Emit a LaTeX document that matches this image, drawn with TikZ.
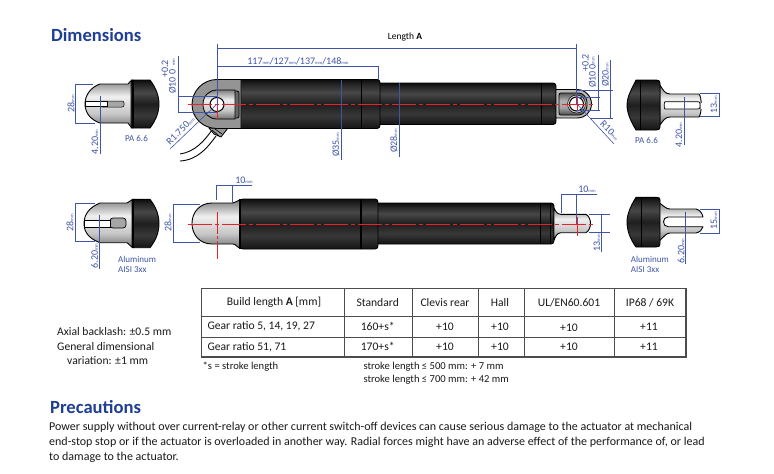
\documentclass[tikz,border=0pt]{standalone}
\usepackage{fontspec}
\setmainfont{Carlito}
\definecolor{dimblue}{HTML}{3F55A5}
\definecolor{headblue}{HTML}{1F3F94}
\definecolor{cline}{HTML}{E8212B}
\definecolor{bodytxt}{HTML}{1A1A1A}
\pgfdeclareverticalshading{darkbody}{100bp}{color(0bp)=(black!92!white);color(25bp)=(black!92!white);color(38bp)=(black!78!white);color(50bp)=(black!88!white);color(62bp)=(black!72!white);color(70bp)=(black!85!white);color(75bp)=(black!95!white);color(100bp)=(black!95!white)}
\pgfdeclareverticalshading{greybody}{100bp}{color(0bp)=(black!55!white);color(25bp)=(black!55!white);color(40bp)=(black!22!white);color(58bp)=(black!6!white);color(75bp)=(black!50!white);color(100bp)=(black!50!white)}
\pgfdeclareverticalshading{slotbody}{100bp}{color(0bp)=(black!70!white);color(25bp)=(black!70!white);color(42bp)=(black!35!white);color(58bp)=(black!30!white);color(75bp)=(black!65!white);color(100bp)=(black!65!white)}
\newcommand{\mmu}{{\fontsize{4.5}{5}\selectfont mm}}
\tikzset{
  x=1pt,y=-1pt,
  dk/.style={shade,shading=darkbody,draw=black,line width=.9pt,line join=round},
  gy/.style={shade,shading=greybody,draw=black,line width=.9pt,line join=round},
  dl/.style={draw=dimblue,line width=.6pt},
  band/.style={draw=black,line width=1pt},
  rl/.style={draw=cline,line width=1pt,dash pattern=on 24pt off 3pt on 4pt off 3pt},
  rs/.style={draw=cline,line width=1pt},
  dt/.style={text=dimblue,font=\fontsize{10}{11}\selectfont,inner sep=0pt},
  dv/.style={dt,rotate=90},
  matl/.style={text=dimblue,font=\fontsize{9}{9.5}\selectfont,inner sep=0pt,anchor=west,align=left},
  tb/.style={text=bodytxt,font=\fontsize{11.6}{13}\selectfont,inner sep=0pt},
  tl/.style={tb,anchor=west},
  nt/.style={tl,font=\fontsize{10.6}{12}\selectfont},
  pg/.style={tl,font=\fontsize{12}{15}\selectfont},
  hd/.style={text=headblue,font=\fontsize{18.6}{20}\selectfont\bfseries,inner sep=0pt,anchor=west},
  rule/.style={draw=black!70,line width=1pt},
  orule/.style={draw=black!70,line width=1.5pt},
}
\begin{document}
\begin{tikzpicture}
\useasboundingbox (0,0) rectangle (774,474);
\fill[white] (0,0) rectangle (774,474);

% ---- headings
\node[hd] (h1) at (51,35.5) {Dimensions};
\node[inner sep=0pt,text=black,font=\fontsize{9.5}{10}\selectfont] (lenA) at (405,37) {Length \textbf{A}};

% ---- top row, left end view
\path[gy] (128,84) -- (100,84) .. controls (91,87) and (85,95) .. (85,104) .. controls (85,113) and (91,120) .. (100,123) -- (128,123) .. controls (130,125) and (130,127) .. (133,128) -- (133,80) .. controls (130,81) and (130,82) .. (128,84) -- cycle;
\path[dk] (131,80) -- (150,80) .. controls (156,88) and (159,96) .. (159,104) .. controls (159,112) and (156,120) .. (150,128) -- (131,128) -- cycle;
\draw[band,line width=1.6pt] (133,80) -- (133,128);
\path[fill=black!35,draw=black,line width=.5pt,rounded corners=2pt] (100,101) -- (124,101) -- (124,107) -- (100,107) -- cycle;
\path[fill=white,draw=black,line width=.7pt] (85,101.5) -- (107,101.5) -- (107,106.5) -- (85,106.5) -- cycle;

% ---- top row, actuator
\path[dk,rounded corners=3pt] (370,83) -- (556,83) -- (556,124.5) -- (370,124.5) -- cycle;
\draw[band] (541,83) -- (541,124.5);
\path[dk,rounded corners=3pt] (236,79.5) -- (380,79.5) -- (380,128.5) -- (236,128.5) -- cycle;
\draw[band] (361,79.5) -- (361,128.5);
% cable
\draw[line width=.9pt,black] (212,130) .. controls (205,140) and (195,152) .. (180,154);
\draw[line width=.9pt,black] (216,136) .. controls (208,147) and (198,160) .. (180,161);
\path[fill=black!40,draw=black,line width=.8pt] (209,128) -- (228,128) -- (221,137) -- (214,134) -- cycle;
\draw[black,line width=.6pt] (212,130) -- (219,136) (215,129) -- (222,134);
% clevis rear
\path[fill=black!42,draw=black,line width=.9pt] (241,79.5) -- (217,79.5) .. controls (203,79.5) and (192,91) .. (192,104.5) .. controls (192,118) and (203,128.5) .. (217,128.5) -- (241,128.5) -- cycle;
\path[fill=black!60,draw=black,line width=.7pt,rounded corners=2pt] (226,91) -- (239,91) -- (239,118) -- (226,118) -- cycle;
\path[gy,line width=.8pt] (217,90) .. controls (209,90) and (203,96) .. (203,104.5) .. controls (203,113) and (209,119) .. (217,119) -- (235,119) -- (235,90) -- cycle;
\path[fill=white,draw=black,line width=1pt] (217,104.5) circle[radius=7];
% clevis front
\path[fill=black!28,draw=black,line width=.9pt] (556,89.5) -- (577,89.5) .. controls (585,89.5) and (591.5,96) .. (591.5,104) .. controls (591.5,112) and (585,118) .. (577,118) -- (556,118) -- cycle;
\path[shade,shading=slotbody,draw=black,line width=.8pt,rounded corners=2pt] (559,93) -- (577,93) .. controls (583,93) and (587,98) .. (587,104) .. controls (587,110) and (583,115) .. (577,115) -- (559,115) -- cycle;
\path[fill=black!15,draw=black,line width=.5pt] (576.5,104) circle[radius=9];
\path[fill=white,draw=black,line width=1pt] (576.5,104) circle[radius=7];

% ---- top row, right end view
\path[gy] (660,85) .. controls (663,90) and (665,94) .. (670,94) -- (699,94) .. controls (702,97) and (702,113) .. (699,117) -- (670,117) .. controls (665,117) and (663,121) .. (660,125) -- cycle;
\path[fill=white,draw=black,line width=.7pt,rounded corners=2pt] (700,101.7) -- (667,101.7) .. controls (664,101.7) and (664,109) .. (667,109) -- (700,109) -- cycle;
\draw[white,line width=1.2pt] (701.5,102.5) -- (701.5,108.5);
\path[dk] (640,80) -- (636,80) .. controls (630,92) and (627,98) .. (627,105) .. controls (627,112) and (630,120) .. (636,130) -- (656,130) .. controls (659,130) and (660,129) .. (660,127) -- (660,83) .. controls (660,81) and (659,80) .. (656,80) -- cycle;
\draw[band,line width=1.4pt] (640.7,80) -- (640.7,130);

% ---- lower row, left end view
\path[gy] (127,203) -- (100,203) .. controls (90,207) and (84,214) .. (84,223.5) .. controls (84,233) and (90,239) .. (100,242.7) -- (127,242.7) .. controls (130,244) and (130,247) .. (134,247.7) -- (134,199.3) .. controls (130,200) and (130,202) .. (127,203) -- cycle;
\path[dk] (132,199.3) -- (150,199.3) .. controls (156,207) and (159,215) .. (159,223.5) .. controls (159,232) and (156,240) .. (150,247.7) -- (132,247.7) -- cycle;
\draw[band,line width=1.6pt] (133,199.3) -- (133,247.7);
\path[fill=black!35,draw=black,line width=.7pt,rounded corners=3pt] (110,218) -- (126,218) -- (126,228) -- (110,228) -- cycle;
\path[fill=white,draw=black,line width=.7pt] (84,220) -- (110,220) -- (110,227) -- (84,227) -- cycle;

% ---- lower row, actuator
\path[dk,rounded corners=3pt] (370,203) -- (554,203) -- (554,244) -- (370,244) -- cycle;
\draw[band,line width=1.4pt] (540.7,203) -- (540.7,244);
\draw[band,line width=.7pt] (550,203) -- (550,244);
\path[gy] (554,208) .. controls (556,212) and (557,214) .. (561,214.3) -- (586,214.3) .. controls (592,218) and (592,229) .. (586,232.7) -- (561,232.7) .. controls (557,233) and (556,236) .. (554,240) -- cycle;
\path[gy] (241,200) .. controls (237,200) and (236,203) .. (233,203) -- (212,203) .. controls (200,203) and (192,212) .. (192,223.5) .. controls (192,235) and (200,244) .. (212,244) -- (233,244) .. controls (236,244) and (237,248) .. (241,248) -- cycle;
\path[dk,rounded corners=3pt] (240,199) -- (378,199) -- (378,249) -- (240,249) -- cycle;
\draw[band,line width=1.6pt] (240,199) -- (240,249);
\draw[band,line width=1.4pt] (361,199) -- (361,249);

% ---- lower row, right end view
\path[gy] (658,202) .. controls (664,206) and (666,209) .. (670,209) -- (696,209) .. controls (700,210) and (702,213) .. (703,217) -- (668,217) .. controls (662,217) and (662,226.7) .. (668,226.7) -- (703,226.7) .. controls (702,230) and (700,232) .. (696,233) -- (670,233) .. controls (666,233) and (664,237) .. (658,242) -- cycle;
\path[dk] (641,197.3) -- (636,197.3) .. controls (630,207) and (627,215) .. (627,222) .. controls (627,230) and (630,239) .. (636,247) -- (656,247) .. controls (659,247) and (660,246) .. (660,244) -- (660,200) .. controls (660,198) and (659,197.3) .. (656,197.3) -- cycle;
\draw[band,line width=1.4pt] (641.7,197.3) -- (641.7,247);

% ---- red centre lines
\draw[rl] (188,104.3) -- (594,104.3);
\draw[rs] (217,92) -- (217,119);
\draw[rs] (577,96) -- (577,110);
\draw[rl] (188,224) -- (595,224);
\draw[rs,dash pattern=on 22pt off 2pt on 3pt off 2pt on 30pt] (217,212) -- (217,259);
\draw[rs] (577,216.7) -- (577,236);

% ---- blue dimension lines, top row
\draw[dl] (217,44) -- (217,104) (576,44) -- (576,104);
\draw[dl] (217,48.5) -- (576,48.5);
\draw[dl] (217,66) -- (378,66) -- (378,80);
\draw[dl] (178,56) -- (178,112) (178,96) -- (217,96) (178,112) -- (217,112);
\draw[dl] (217,104) -- (170,149);
\draw[dl] (341.7,80) -- (341.7,160);
\draw[dl] (399.5,83) -- (399.5,156.7);
\draw[dl] (93,84) -- (75,84) -- (75,123) -- (95,123);
\draw[dl] (100,96) -- (100,154);
\draw[dl] (598,55) -- (598,111) (576,97) -- (600,97) (576,110.7) -- (600,110.7);
\draw[dl] (610.7,60) -- (610.7,118) (576,90.7) -- (613,90.7) (590,118) -- (613,118);
\draw[dl] (577,104) -- (614,144);
\draw[dl] (700,93) -- (719,93) -- (719,116) -- (700,116);
\draw[dl] (684.3,97) -- (684.3,145);
% lower row
\draw[dl] (216.7,200) -- (216.7,185.7) -- (252,185.7) (232.7,185.7) -- (232.7,203);
\draw[dl] (95,203) -- (75,203) -- (75,241.7) -- (95,241.7);
\draw[dl] (200,204) -- (173,204) -- (173,242.7) -- (200,242.7);
\draw[dl] (99.3,215) -- (99.3,269);
\draw[dl] (561.7,213) -- (561.7,194) -- (596.7,194) (576.7,194) -- (576.7,224);
\draw[dl] (589,214.3) -- (610,214.3) (589,232.7) -- (610,232.7) (601.7,214.3) -- (601.7,251.7);
\draw[dl] (700,209) -- (719,209) -- (719,233) -- (700,233);
\draw[dl] (685.7,211.7) -- (685.7,264);

% ---- dimension labels
\node[dt] (d117) at (298,61) {117\mmu/127\mmu/137\mmu/148\mmu};
\node[dv] (da1) at (172.5,85.5) {Ø10};
\node[dv] (da2) at (172.5,71.5) {0};
\node[dv] (da3) at (165,69) {+0.2};
\node[dv] (da4) at (174,62) {\mmu};
\node[dt,rotate=45] (dr1) at (180.5,130.5) {R1.750\mmu};
\node[dv] (d35) at (336,145) {Ø35\mmu};
\node[dv] (d28b) at (394,141) {Ø28\mmu};
\node[dv] (v28a) at (71,103.5) {28\mmu};
\node[dv] (v420a) at (95,142) {4.20\mmu};
\node[matl] (pa1) at (125,138) {PA 6.6};
\node[dv] (db1) at (592.5,79.5) {Ø10};
\node[dv] (db2) at (592.5,67) {0};
\node[dv] (db3) at (585.5,63) {+0.2};
\node[dv] (db4) at (593.5,60.5) {\mmu};
\node[dv] (d20) at (605.5,75) {Ø20\mmu};
\node[dt,rotate=-45] (dr2) at (610,130.5) {R10\mmu};
\node[dv] (v13a) at (714,104.5) {13\mmu};
\node[dv] (v420b) at (679,135) {4.20\mmu};
\node[matl] (pa2) at (635,140.7) {PA 6.6};
\node[dt] (d10a) at (244,180.5) {10\mmu};
\node[dv] (v28b) at (70,222.5) {28\mmu};
\node[dv] (v28c) at (168,223) {28\mmu};
\node[dv] (v620a) at (94.5,256) {6.20\mmu};
\node[matl] (al1) at (118,264.5) {Aluminum\\AISI 3xx};
\node[dt] (d10b) at (587,189.5) {10\mmu};
\node[dv] (v13b) at (597,243) {13\mmu};
\node[dv] (v15) at (714,221) {15\mmu};
\node[dv] (v620b) at (681,251) {6.20\mmu};
\node[matl] (al2) at (630.7,264.5) {Aluminum\\AISI 3xx};

% ---- table
\draw[rule] (201.7,316) -- (686,316) (201.7,337) -- (686,337);
\draw[rule] (344.7,288.5) -- (344.7,357) (412.3,288.5) -- (412.3,357) (478.3,288.5) -- (478.3,357) (524,288.5) -- (524,357) (614.3,288.5) -- (614.3,357);
\draw[orule] (201.7,288.5) rectangle (686,357);
\node[tb] (t01) at (274,302.5) {Build length \textbf{A} [mm]};
\node[tb] (t02) at (377.7,302.5) {Standard};
\node[tb] (t03) at (445,302.5) {Clevis rear};
\node[tb] (t04) at (500,302.5) {Hall};
\node[tb] (t05) at (569,302.5) {UL/EN60.601};
\node[tb] (t06) at (650,302.5) {IP68 / 69K};
\node[tl] (t11) at (207.3,326.5) {Gear ratio 5, 14, 19, 27};
\node[tb] (t12) at (377.7,326.5) {160+s*};
\node[tb] (t13) at (445,326.5) {+10};
\node[tb] (t14) at (500,326.5) {+10};
\node[tb] (t15) at (569,327.5) {+10};
\node[tb] (t16) at (649,326.5) {+11};
\node[tl] (t21) at (207.3,347) {Gear ratio 51, 71};
\node[tb] (t22) at (377.7,346) {170+s*};
\node[tb] (t23) at (445,346.5) {+10};
\node[tb] (t24) at (500,346.5) {+10};
\node[tb] (t25) at (569,346.5) {+10};
\node[tb] (t26) at (649,346.5) {+11};
\node[nt] (n1) at (202.5,366.7) {*s = stroke length};
\node[nt] (n2) at (363.3,366.7) {stroke length ≤ 500 mm: + 7 mm};
\node[nt] (n3) at (363.3,379.7) {stroke length ≤ 700 mm: + 42 mm};
\node[tl] (a1) at (57,332) {Axial backlash: ±0.5 mm};
\node[tl] (a2) at (57,346.5) {General dimensional};
\node[tl] (a3) at (67,360.5) {variation: ±1 mm};

% ---- precautions
\node[hd] (h2) at (50,407) {Precautions};
\node[pg] (p1) at (49,427) {Power supply without over current-relay or other current switch-off devices can cause serious damage to the actuator at mechanical};
\node[pg] (p2) at (49,442) {end-stop stop or if the actuator is overloaded in another way. Radial forces might have an adverse effect of the performance of, or lead};
\node[pg] (p3) at (49,457) {to damage to the actuator.};
\end{tikzpicture}
\end{document}
